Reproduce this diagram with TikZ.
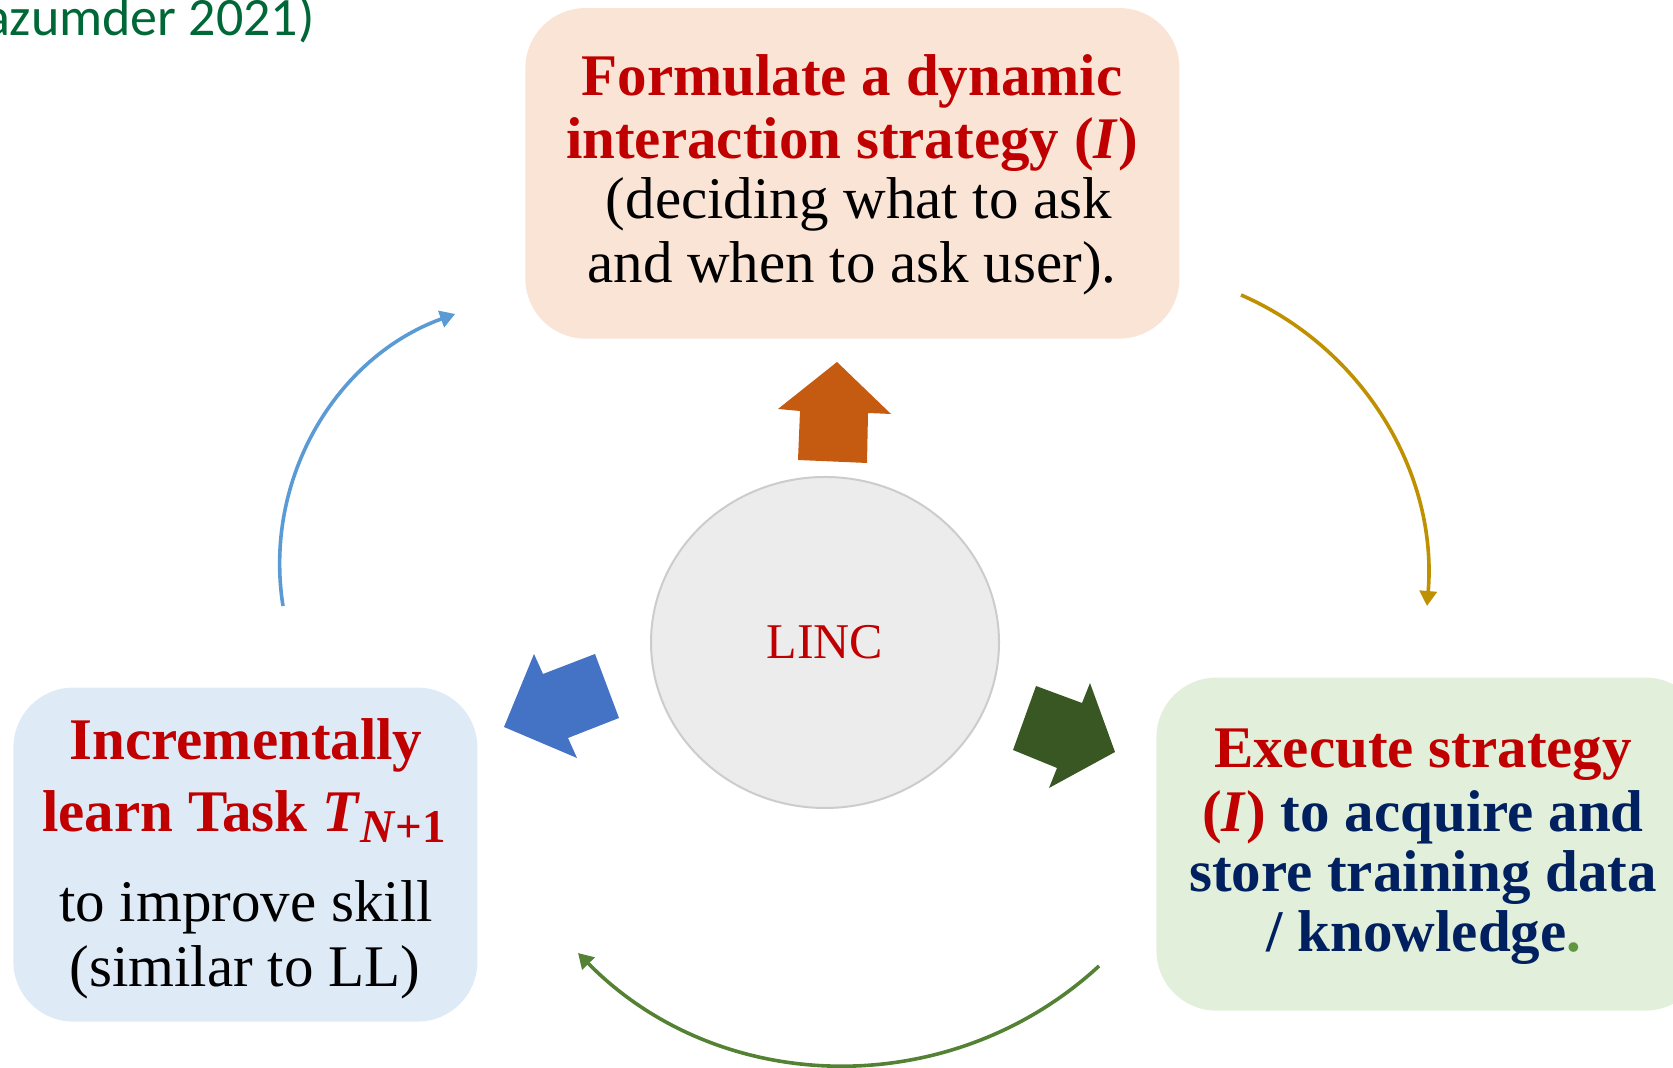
\documentclass[tikz,border=0pt]{standalone}
\usepackage{fontspec}
\setmainfont{Liberation Serif}
\newfontfamily\calibri{Carlito}
\usetikzlibrary{arrows.meta,shapes.geometric}

\definecolor{linkred}{RGB}{192,0,0}
\definecolor{navy}{RGB}{0,32,96}
\definecolor{dotgreen}{RGB}{96,150,64}
\definecolor{refgreen}{RGB}{0,104,55}
\definecolor{topfill}{RGB}{250,228,214}
\definecolor{leftfill}{RGB}{222,234,246}
\definecolor{rightfill}{RGB}{226,239,218}
\definecolor{ringfill}{RGB}{236,236,236}
\definecolor{ringgray}{RGB}{204,204,204}
\definecolor{orangeblk}{RGB}{197,90,17}
\definecolor{blueblk}{RGB}{68,114,196}
\definecolor{greenblk}{RGB}{56,87,35}
\definecolor{bluearc}{RGB}{91,155,213}
\definecolor{goldarc}{RGB}{191,144,0}
\definecolor{greenarc}{RGB}{84,130,53}

\begin{document}
\begin{tikzpicture}[x=0.5pt,y=0.5pt,
  card/.style={rounded corners=30pt, inner sep=0, anchor=south west},
  txt/.style={anchor=base, inner sep=0, font=\fontsize{29.5}{31}\selectfont},
  cycleline/.style={line width=1.8pt, -{Triangle[length=7.5pt,width=8.5pt]}},
  ]
\useasboundingbox (0,0) rectangle (1673,1068);

% reference note, top left
\node[anchor=base east, inner sep=0, text=refgreen,
      font=\calibri\fontsize{27}{27}\selectfont] (cite) at (315,1032) {azumder 2021)};

% the three step cards
\node[card, fill=topfill, minimum width=327pt, minimum height=165.25pt] (topbox) at (525,729) {};
\node[card, fill=leftfill, minimum width=232pt, minimum height=167pt] (leftbox) at (13,46) {};
\node[card, fill=rightfill, minimum width=274.5pt, minimum height=166.5pt] (rightbox) at (1156,57) {};

% top card text
\node[txt, text=linkred] (t1) at (852,972) {\bfseries Formulate a dynamic};
\node[txt, text=linkred] (t2) at (852,909) {\bfseries interaction strategy (\textit{I})};
\node[txt] (t3) at (859,849) {(deciding what to ask};
\node[txt] (t4) at (852,785) {and when to ask user).};

% left card text
\node[txt, text=linkred] (l1) at (246,308) {\bfseries Incrementally};
\node[txt, text=linkred] (l2) at (244,236) {\bfseries learn Task \textit{T}\raisebox{-5.5pt}{\fontsize{23.5}{23.5}\selectfont\textit{N}+1}};
\node[txt] (l3) at (246,146) {to improve skill};
\node[txt] (l4) at (245,81) {(similar to LL)};

% right card text
\node[txt, text=linkred] (r1) at (1423,300) {\bfseries Execute strategy};
\node[txt, text=navy] (r2) at (1423,236) {\bfseries \textcolor{linkred}{(\textit{I})} to acquire and};
\node[txt, text=navy] (r3) at (1423,176) {\bfseries store training data};
\node[txt, text=navy] (r4) at (1424,116) {\bfseries / knowledge\textcolor{dotgreen}{.}};

% central hub
\node[ellipse, draw=ringgray, line width=1pt, fill=ringfill, inner sep=0,
      minimum width=174pt, minimum height=165.5pt, text=linkred,
      font=\fontsize{25}{25}\selectfont] (linc) at (825,425.5) {LINC};

% block arrows around the hub
\fill[orangeblk] (837,706) -- (891,654) -- (868,655) -- (867,605) -- (798,608) -- (800,657) -- (778,659) -- cycle;
\fill[blueblk] (504,341) -- (534,414) -- (543,394) -- (595,414) -- (619,350) -- (568,330) -- (577,310) -- cycle;
\fill[greenblk] (1115,316) -- (1090,385) -- (1082,365) -- (1036,382) -- (1013,318) -- (1057,300) -- (1049,280) -- cycle;

% cycle arcs between the cards
\coordinate (bs) at (283,462);
\coordinate (gs) at (1241,773);
\coordinate (ns) at (1099,102);
\draw[cycleline, bluearc] (bs) arc[start angle=189.07, end angle=109.9, radius=266];
\draw[cycleline, goldarc] (gs) arc[start angle=66.48, end angle=-4.72, radius=311.3];
\draw[cycleline, greenarc] (ns) arc[start angle=-47.35, end angle=-135.51, radius=374.6];
\end{tikzpicture}
\end{document}
